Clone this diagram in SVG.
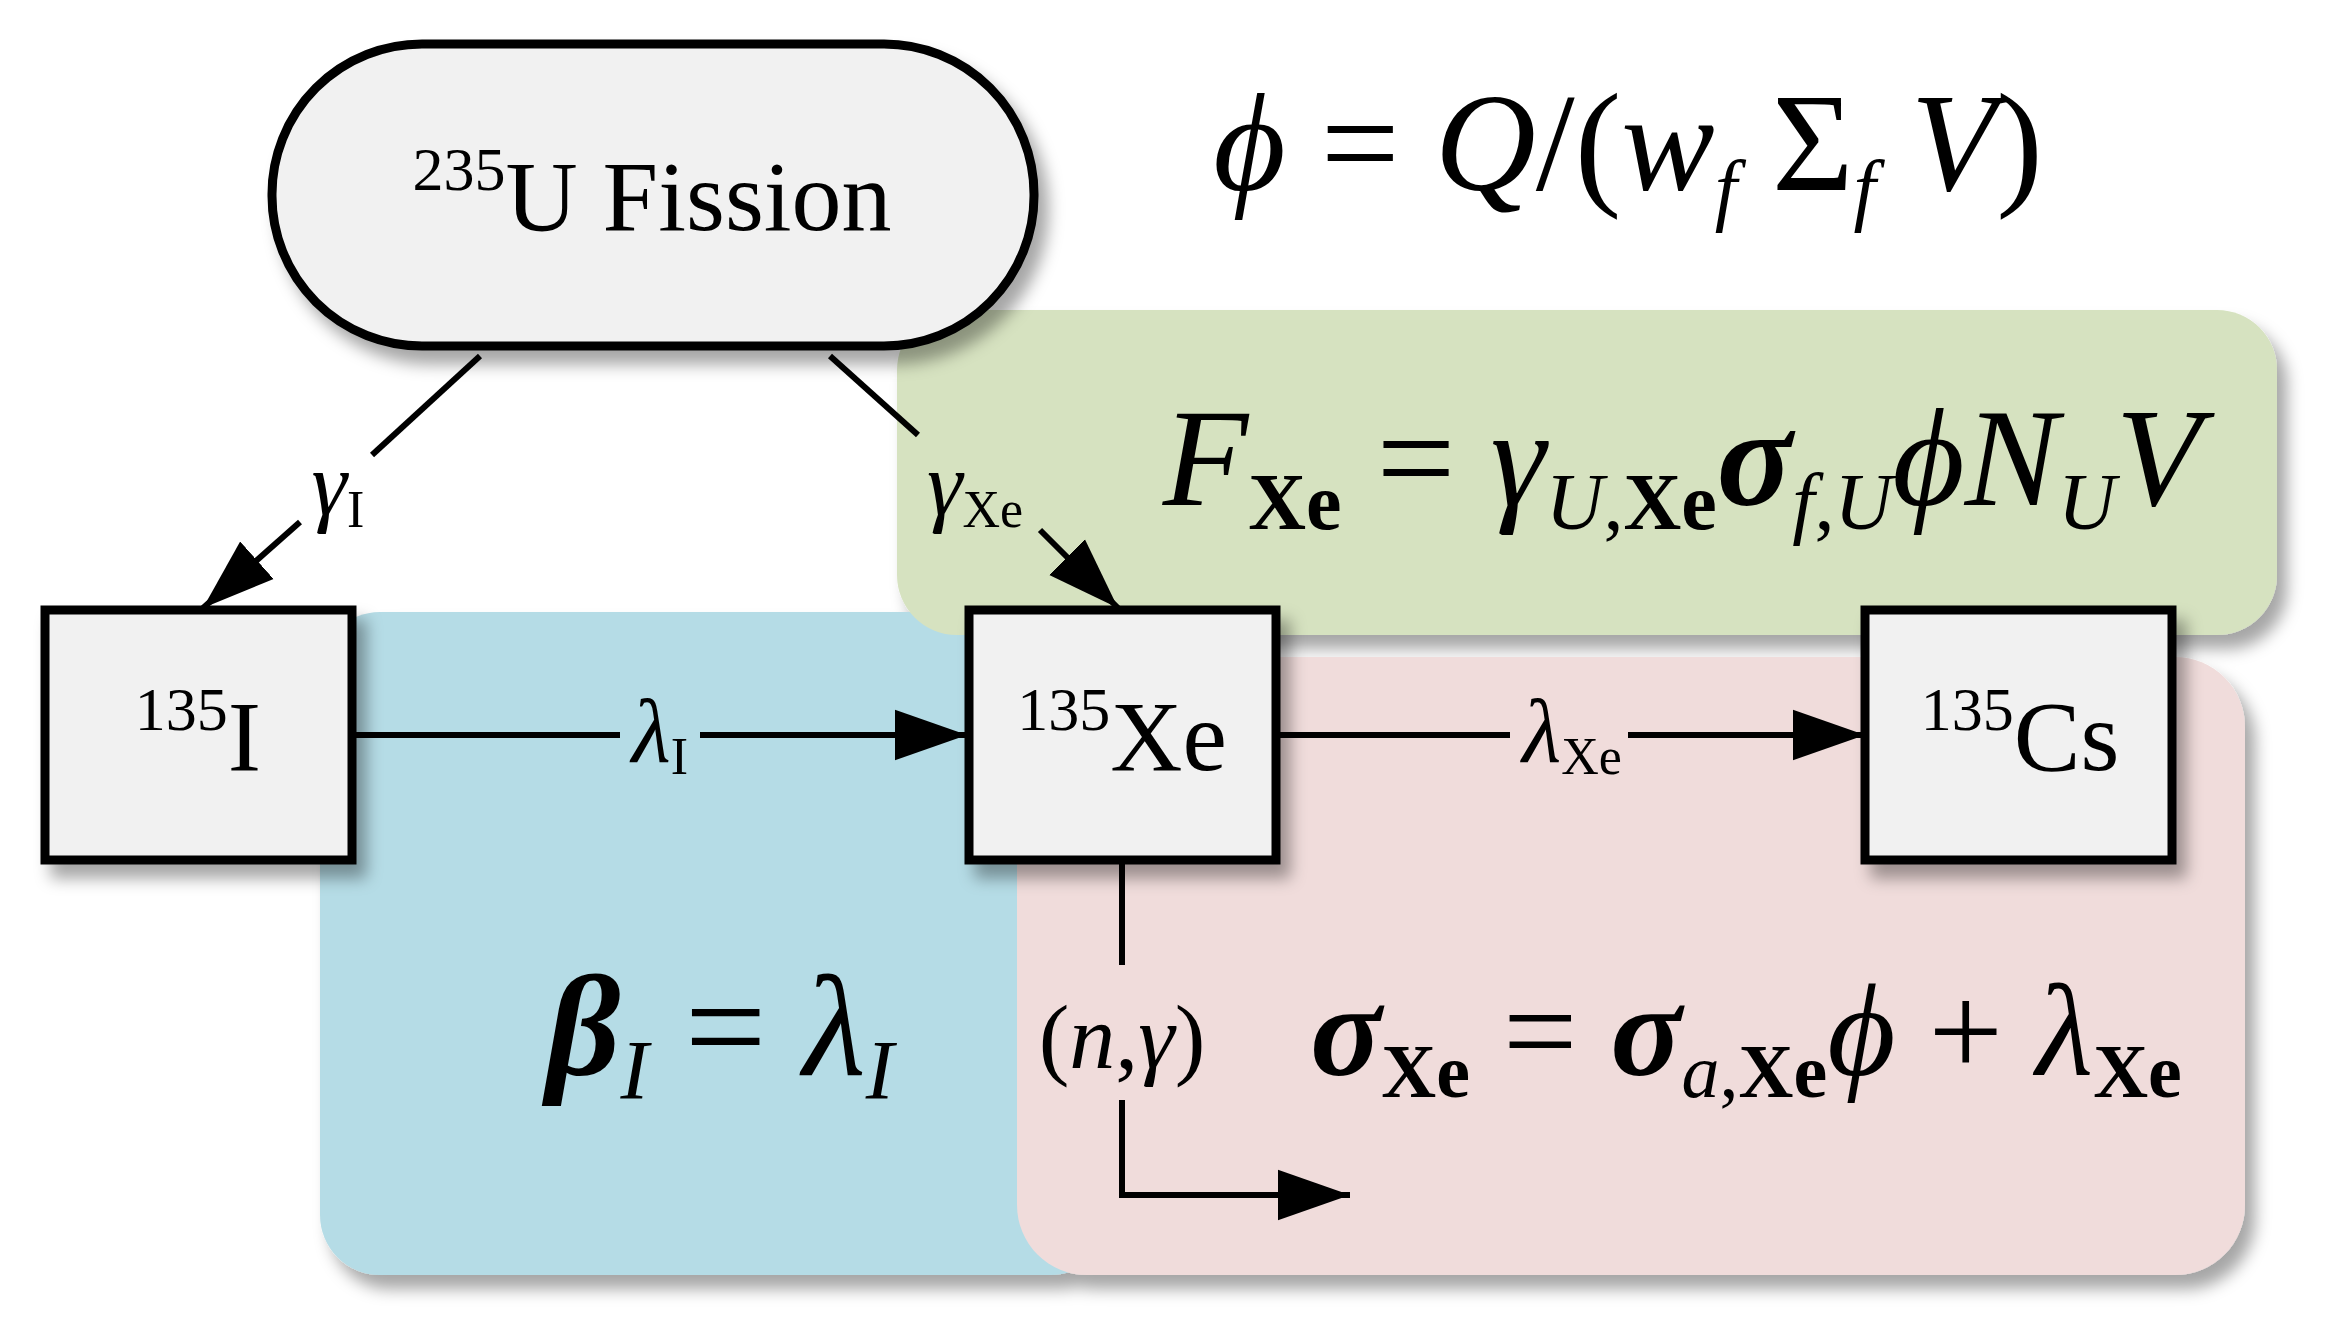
<svg xmlns="http://www.w3.org/2000/svg" width="2338" height="1340" viewBox="0 0 2338 1340">
<style>
text{font-family:"Liberation Serif","Times New Roman",serif;fill:#000}
.i{font-style:italic}
.b{font-weight:bold}
.node{fill:#f1f1f1;stroke:#000;stroke-width:9}
.ln{stroke:#000;stroke-width:6;fill:none}
</style>
<defs>
<filter id="sh" x="-10%" y="-10%" width="130%" height="130%"><feDropShadow dx="10" dy="14" stdDeviation="8" flood-color="#000" flood-opacity="0.35"/></filter>
<marker id="a" viewBox="0 0 10 10" refX="10" refY="5" markerWidth="12" markerHeight="12" orient="auto"><path d="M0,1.5L10,5L0,8.5z" fill="#000"/></marker>
</defs>
<g id="regions" filter="url(#sh)">
<rect x="320" y="612" width="790" height="663" rx="60" fill="#b5dce6"/>
<rect x="1017" y="657" width="1228" height="618" rx="70" fill="#f0dcdb"/>
<rect x="897" y="310" width="1380" height="325" rx="60" fill="#d6e2c0"/>
</g>
<g id="connectors">
<line class="ln" x1="480" y1="356" x2="372" y2="455"/>
<line class="ln" x1="300" y1="522" x2="203" y2="608" marker-end="url(#a)"/>
<line class="ln" x1="830" y1="356" x2="918" y2="435"/>
<line class="ln" x1="1040" y1="530" x2="1118" y2="608" marker-end="url(#a)"/>
<line class="ln" x1="352" y1="735" x2="620" y2="735"/>
<line class="ln" x1="700" y1="735" x2="967" y2="735" marker-end="url(#a)"/>
<line class="ln" x1="1278" y1="735" x2="1510" y2="735"/>
<line class="ln" x1="1628" y1="735" x2="1865" y2="735" marker-end="url(#a)"/>
<polyline class="ln" points="1122,860 1122,965"/>
<polyline class="ln" points="1122,1100 1122,1195 1350,1195" marker-end="url(#a)"/>
<text x="338" y="515" font-size="90" text-anchor="middle"><tspan class="i">γ</tspan><tspan font-size="52" dy="12">I</tspan></text>
<text x="975" y="515" font-size="90" text-anchor="middle"><tspan class="i">γ</tspan><tspan font-size="52" dy="12">Xe</tspan></text>
<text x="660" y="762" font-size="90" text-anchor="middle"><tspan class="i">λ</tspan><tspan font-size="52" dy="12">I</tspan></text>
<text x="1572" y="762" font-size="90" text-anchor="middle"><tspan class="i">λ</tspan><tspan font-size="52" dy="12">Xe</tspan></text>
<text x="1122" y="1068" font-size="92" text-anchor="middle">(<tspan class="i">n</tspan>,<tspan class="i">γ</tspan>)</text>
</g>
<g id="fission" filter="url(#sh)">
<rect class="node" x="272" y="44" width="762" height="302" rx="150" ry="150"/>
<text x="652" y="230" font-size="100" text-anchor="middle"><tspan font-size="62" dy="-40">235</tspan><tspan dy="40">U Fission</tspan></text>
</g>
<g id="iodine" filter="url(#sh)">
<rect class="node" x="45" y="610" width="307" height="250"/>
<text x="198" y="770" font-size="100" text-anchor="middle"><tspan font-size="62" dy="-40">135</tspan><tspan dy="40">I</tspan></text>
</g>
<g id="xenon" filter="url(#sh)">
<rect class="node" x="969" y="610" width="307" height="250"/>
<text x="1122" y="770" font-size="100" text-anchor="middle"><tspan font-size="62" dy="-40">135</tspan><tspan dy="40">Xe</tspan></text>
</g>
<g id="cesium" filter="url(#sh)">
<rect class="node" x="1865" y="610" width="307" height="250"/>
<text x="2020" y="770" font-size="100" text-anchor="middle"><tspan font-size="62" dy="-40">135</tspan><tspan dy="40">Cs</tspan></text>
</g>
<g id="formulas">
<text x="1628" y="190" font-size="140" text-anchor="middle"><tspan class="i">ϕ</tspan> = <tspan class="i">Q</tspan>/(<tspan class="i">w</tspan><tspan class="i" font-size="80" dy="26">f</tspan><tspan dy="-26"> Σ</tspan><tspan class="i" font-size="80" dy="26">f</tspan><tspan class="i" dy="-26"> V</tspan>)</text>
<text x="1682" y="505" font-size="140" text-anchor="middle"><tspan class="i">F</tspan><tspan class="b" font-size="80" dy="24">Xe</tspan><tspan dy="-24"> = </tspan><tspan class="i">γ</tspan><tspan font-size="80" dy="24"><tspan class="i">U</tspan>,<tspan class="b">Xe</tspan></tspan><tspan class="i b" dy="-24">σ</tspan><tspan class="i" font-size="80" dy="24">f</tspan><tspan font-size="80">,<tspan class="i">U</tspan></tspan><tspan class="i" dy="-24">ϕN</tspan><tspan class="i" font-size="80" dy="24">U</tspan><tspan class="i" dy="-24">V</tspan></text>
<text x="720" y="1075" font-size="145" text-anchor="middle"><tspan class="i b">β</tspan><tspan class="i" font-size="84" dy="24">I</tspan><tspan dy="-24"> = </tspan><tspan class="i">λ</tspan><tspan class="i" font-size="84" dy="24">I</tspan></text>
<text x="1746" y="1075" font-size="132" text-anchor="middle"><tspan class="i b">σ</tspan><tspan class="b" font-size="76" dy="22">Xe</tspan><tspan dy="-22"> = </tspan><tspan class="i b">σ</tspan><tspan font-size="76" dy="22"><tspan class="i">a</tspan>,<tspan class="b">Xe</tspan></tspan><tspan class="i" dy="-22">ϕ</tspan> + <tspan class="i">λ</tspan><tspan class="b" font-size="76" dy="22">Xe</tspan></text>
</g>
</svg>
